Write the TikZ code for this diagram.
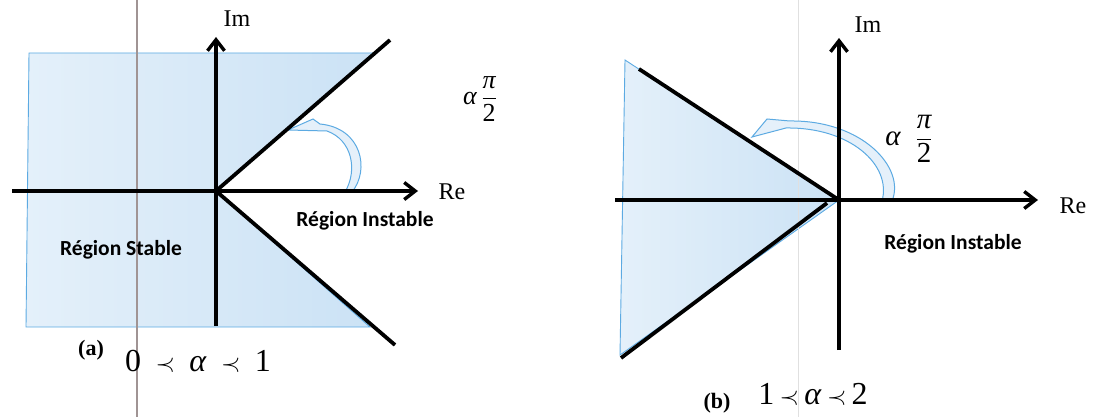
\documentclass[tikz,border=0pt]{standalone}
\usepackage{amsmath}
\usepackage{fontspec}
\setmainfont{Liberation Serif}
\newfontfamily\regfont{Carlito}
\usetikzlibrary{arrows.meta}
\definecolor{zonelight}{RGB}{228,240,250}
\definecolor{zonedark}{RGB}{203,226,245}
\definecolor{edgeblue}{RGB}{92,170,226}
\definecolor{foldgray}{RGB}{160,148,148}

\begin{document}
\begin{tikzpicture}[x=1pt,y=-1pt,
    axis/.style={line width=3.4pt,-{Straight Barb[length=11pt,width=17pt]}},
    bord/.style={line width=3.8pt},
    zone/.style={draw=edgeblue,line width=0.9pt,left color=zonelight,right color=zonedark},
    curv/.style={draw=edgeblue,fill=zonedark!50,line width=1pt},
    ax/.style={font=\fontsize{24}{28}\selectfont},
    regtxt/.style={font=\regfont\bfseries\fontsize{21.5}{24}\selectfont},
    cond/.style={font=\fontsize{32}{36}\selectfont},
    captxt/.style={font=\bfseries\fontsize{22}{24}\selectfont},
    ang/.style={font=\fontsize{26}{30}\selectfont}]
    \useasboundingbox (0,0) rectangle (1095,417);

    % ---------- (a) 0 < alpha < 1 ----------
        \coordinate (O) at (216,191);
        \coordinate (U) at (390,40);
        \coordinate (L) at (395,345);

    % stable region
        \path[zone] (216,53) -- (29,53) -- (26,327) -- (216,327) -- (370,327) -- (O) -- (374,53) -- cycle;

    % scan fold line
        \draw[foldgray,line width=1.8pt] (137,0) coordinate (F1) -- (137,417) coordinate (F2);

    % angle arrow
        \path[curv] (352,192) .. controls (370,170) and (362,128) .. (320,124)
            -- (313,119) -- (288,130) -- (327,131)
            .. controls (352,140) and (358,170) .. (345,192) -- cycle;

    % axes and wedge
        \draw[axis] (12,191) coordinate (ReL) -- (418,191) coordinate (ReR);
        \draw[axis] (216,326) coordinate (ImD) -- (216,37) coordinate (ImU);
        \draw[bord] (O) -- (U);
        \draw[bord] (O) -- (L);

    % labels
        \node[ax] (ImA) at (237,19) {Im};
        \node[ax] (ReA) at (452,192) {Re};
        \node[regtxt] (InsA) at (365,221) {Région Instable};
        \node[regtxt] (StaA) at (121,250) {Région Stable};
        \node[captxt] (CapA) at (91,350) {(a)};
        \node[cond] (CondA) at (198,361) {0\hspace{0.2em} $\prec$\hspace{0.2em} \textit{α}\hspace{0.2em} $\prec$\hspace{0.2em} 1};
        \node[ang] (AngA) at (480,99) {\textit{α}\,$\dfrac{\textit{π}}{\text{2}}$};

    % ---------- (b) 1 < alpha < 2 ----------
        \coordinate (P) at (839,200);
        \coordinate (V) at (639,69);
        \coordinate (W) at (621,358);
        \coordinate (W2) at (827,203);

    % stable region
        \path[zone] (625,60) -- (P) -- (620,355) -- cycle;

    % scan fold line
        \draw[black!12,line width=0.6pt] (798,0) coordinate (F3) -- (798,417) coordinate (F4);

    % angle arrow
        \path[curv] (892,201) .. controls (906,168) and (862,120) .. (790,121)
            -- (767,119) -- (752,137) -- (786,128)
            .. controls (850,127) and (892,165) .. (882,201) -- cycle;

    % axes and wedge
        \draw[axis] (615,200) coordinate (ReL2) -- (1038,200) coordinate (ReR2);
        \draw[axis] (839,350) coordinate (ImD2) -- (839,38) coordinate (ImU2);
        \draw[bord] (V) -- (P);
        \draw[bord] (W) -- (W2);

    % labels
        \node[ax] (ImB) at (868,25) {Im};
        \node[ax] (ReB) at (1073,206) {Re};
        \node[regtxt] (InsB) at (953,244) {Région Instable};
        \node[captxt] (CapB) at (717,403) {(b)};
        \node[cond] (CondB) at (813,394) {1\,$\prec$\,\textit{α}\,$\prec$\,2};
        \node[ang,font=\fontsize{29}{32}\selectfont] (AngB) at (909,139) {\textit{α}\hspace{0.5em}$\dfrac{\textit{π}}{\text{2}}$};
\end{tikzpicture}
\end{document}
